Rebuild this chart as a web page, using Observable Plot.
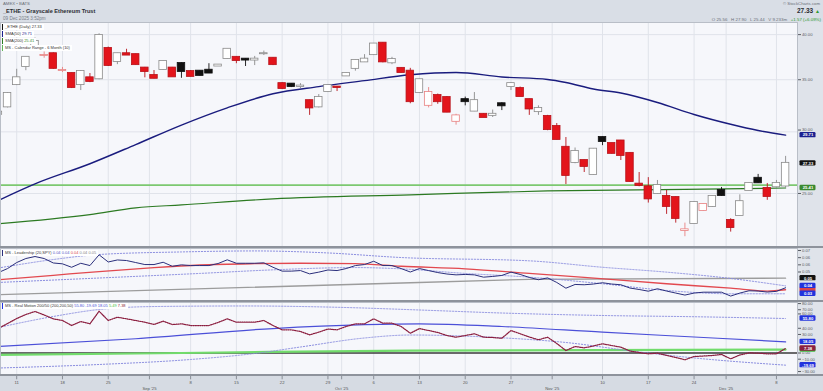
<!DOCTYPE html>
<html>
<head>
<meta charset="utf-8">
<script src="https://cdn.jsdelivr.net/npm/d3@7"></script>
<script src="https://cdn.jsdelivr.net/npm/@observablehq/plot@0.6"></script>
<style>
html,body{margin:0;padding:0;background:#d9dee6;}
#wrap{position:relative;width:823px;height:391px;overflow:hidden;background:#d9dee6;font-family:"Liberation Sans",Arial,sans-serif;}
#wrap svg{display:block;}
.abs{position:absolute;white-space:nowrap;}
.leg{position:absolute;left:2px;height:6px;background:#fff;font-size:4px;line-height:6px;padding:0 2px 0 2px;color:#333;border-left:1.5px solid #000;white-space:nowrap;}
.panel{position:absolute;left:0;}
.sep{position:absolute;left:0;width:823px;height:2px;background:#8e939c;}
</style>
</head>
<body>
<div id="wrap">
  <div id="p0" class="panel" style="top:22px"></div>
  <div class="sep" style="top:246px"></div>
  <div id="p1" class="panel" style="top:248px"></div>
  <div class="sep" style="top:300px"></div>
  <div id="p2" class="panel" style="top:302px"></div>
  <div class="sep" style="top:374px"></div>
  <div id="p3" class="panel" style="top:376px"></div>

  <div class="abs" style="left:3px;top:1px;font-size:4.3px;color:#6a6f78;">AMEX • BATS</div>
  <div class="abs" style="left:3px;top:7.5px;font-size:5.6px;font-weight:bold;color:#2a2d33;">_ETHE - Grayscale Ethereum Trust</div>
  <div class="abs" style="left:3px;top:15.5px;font-size:4.6px;color:#7a7f88;">09 Dec 2025 3:52pm</div>
  <div class="abs" style="right:3px;top:1px;font-size:4.3px;color:#6a6f78;">© StockCharts.com</div>
  <div class="abs" style="right:3px;top:7px;font-size:6.5px;font-weight:bold;color:#2a2d33;">27.33 <span style="color:#2e9b2e;font-size:5px">▲</span></div>
  <div class="abs" style="right:2px;top:16.5px;font-size:4.4px;color:#6a6f78;">O 25.56 &nbsp;&nbsp;H 27.90 &nbsp;&nbsp;L 25.44 &nbsp;&nbsp;V 9.233m &nbsp;&nbsp;<span style="color:#2e9b2e">+1.57 (+6.09%)</span></div>

  <div class="leg" style="top:23.5px;border-left-color:#111;">_ETHE (Daily) 27.33</div>
  <div class="leg" style="top:30.5px;border-left-color:#1b2090;">SMA(50) <span style="color:#1b2090">29.71</span></div>
  <div class="leg" style="top:37.5px;border-left-color:#2c7a22;">SMA(200) <span style="color:#3b8a30">25.41</span></div>
  <div class="leg" style="top:44.5px;border-left-color:#5fb556;">MS - Calendar Range - 6 Month (10)</div>
  <div class="leg" style="top:249.5px;border-left-color:#2b2f7c;">MS - Leadership (20,SPY) <span style="color:#5558c8">0.04 0.04</span> <span style="color:#d9434a">0.04</span> <span style="color:#888">0.04 0.05</span></div>
  <div class="leg" style="top:303px;border-left-color:#2233dd;">MS - Real Motion 200/50 (200,200,50) <span style="color:#4b4fd8">55.80 -19.69 18.05</span> <span style="color:#3fbf3f">5.49</span> <span style="color:#8b2040">7.38</span></div>
</div>
<script>
// ---- daily OHLC (trading days Aug 7 .. Dec 9, 2025; index 0..86) ----
const open = [31.6,32.3,34.5,36.4,38.3,37.6,37.8,35.97,35.65,34.5,
  35.2,35.1,38.4,36.95,37.8,37.7,36.23,35.44,36.08,36.23,
  36.72,35.86,35.9,36.0,36.45,37.27,37.4,37.2,37.1,37.8,
  37.3,34.6,34.55,34.3,32.9,32.3,33.8,34.25,35.4,36.2,
  36.9,37.7,39.0,36.8,36.2,35.9,33.7,32.45,33.4,33.2,
  30.95,33.0,31.9,31.6,31.5,32.6,34.3,34.1,33.0,31.85,
  31.4,30.48,28.66,27.4,27.56,26.45,29.5,28.98,29.2,28.15,
  25.7,25.5,25.0,24.78,24.7,22.4,22.88,23.77,24.06,25.22,
  23.08,23.43,25.22,26.15,25.37,25.5,25.56];
const high = [31.9,33.7,36.1,37.4,39.6,38.0,37.9,36.3,35.7,35.97,
  35.65,40.1,38.55,37.85,38.3,37.75,36.3,35.97,37.0,36.3,
  36.8,35.97,35.95,36.7,36.6,38.3,37.45,37.25,37.5,38.1,
  37.35,34.7,34.6,34.6,32.95,33.5,34.45,34.3,35.7,37.1,
  37.7,38.95,39.05,37.4,36.25,36.2,35.05,34.2,33.55,33.3,
  31.6,33.25,33.7,31.65,32.0,32.7,34.7,34.25,33.05,32.4,
  31.5,30.75,29.5,28.6,27.6,28.55,29.55,29.0,29.25,28.2,
  26.6,26.2,25.98,25.22,24.75,22.9,24.4,24.25,24.8,25.45,
  23.2,24.9,25.8,26.45,25.75,25.98,27.9];
const low = [31.4,32.2,34.4,35.95,38.2,37.3,36.1,35.75,34.1,33.9,
  34.7,35.0,36.4,36.6,37.6,36.55,35.2,35.1,36.0,35.3,
  35.15,35.3,35.4,35.65,36.4,37.2,36.7,36.4,36.5,37.6,
  36.5,34.0,34.2,34.1,31.5,32.2,33.7,33.8,35.35,35.9,
  36.85,37.6,36.8,36.6,35.7,32.6,33.6,32.2,32.55,31.75,
  30.6,32.4,31.85,31.3,31.3,31.95,33.9,33.3,31.5,31.5,
  30.1,29.3,25.67,27.3,26.6,26.4,28.8,28.1,27.56,25.85,
  25.5,24.3,24.95,23.5,22.9,22.0,22.85,23.7,24.0,24.8,
  22.3,23.4,25.2,25.75,24.5,25.4,25.44];
const close = [31.8,33.6,35.2,37.4,39.2,37.6,36.2,35.97,34.2,35.86,
  34.82,39.9,36.51,37.8,37.65,36.6,35.86,35.15,36.95,35.3,
  35.86,35.35,35.45,35.7,36.55,38.3,37.05,37.1,37.2,37.8,
  36.6,34.1,34.3,34.35,32.2,33.2,34.4,34.2,35.65,37.05,
  37.2,38.9,36.9,37.15,35.75,32.8,35.0,33.7,32.8,31.8,
  31.45,32.8,32.9,31.3,31.6,32.4,34.6,33.3,32.1,32.15,
  30.2,29.33,26.37,28.3,27.08,28.5,29.15,28.15,27.98,25.9,
  25.6,24.6,25.6,24.06,23.22,22.45,24.34,24.2,24.78,24.85,
  22.6,24.4,25.75,25.8,24.78,25.75,27.33];

// ---- price overlays (sampled at trading-day index) ----
const sma50Idx = [0,4,10,15,20,25,30,35,40,45,50,55,60,62,65,68,72,76,80,83,86];
const sma50    = [24.49,25.72,27.30,28.89,30.61,32.21,33.58,34.30,34.91,35.52,35.76,35.29,35.03,34.72,34.06,33.65,32.72,31.58,30.68,30.12,29.71];
const sma200Idx = [0,10,15,20,30,45,60,75,86];
const sma200    = [22.86,23.49,23.96,24.17,24.60,24.90,25.19,25.30,25.41];
const calRange = 25.62;

// ---- MS Leadership (20,SPY) ----
const leadership = [0.0546,0.0574,0.0616,0.0644,0.0658,0.0644,0.0613,0.0607,0.0583,0.0611,
  0.0595,0.0670,0.0620,0.0634,0.0630,0.0616,0.0602,0.0602,0.0618,0.0590,
  0.0600,0.0595,0.0595,0.0595,0.0609,0.0635,0.0611,0.0611,0.0611,0.0614,
  0.0583,0.0556,0.0556,0.0560,0.0537,0.0549,0.0564,0.0560,0.0574,0.0595,
  0.0602,0.0625,0.0595,0.0595,0.0574,0.0550,0.0574,0.0560,0.0546,0.0536,
  0.0530,0.0533,0.0530,0.0514,0.0519,0.0526,0.0549,0.0533,0.0512,0.0496,
  0.0509,0.0477,0.0437,0.0463,0.0461,0.0466,0.0475,0.0466,0.0461,0.0438,
  0.0428,0.0416,0.0433,0.0417,0.0403,0.0389,0.0403,0.0409,0.0409,0.0409,
  0.0382,0.0403,0.0419,0.0417,0.0410,0.0415,0.0440];
const leadAvgIdx = [0,6,11,17,22,28,33,39,44,51,58,64,73,80,84,86];
const leadAvg    = [0.0496,0.0527,0.0553,0.0581,0.0599,0.0608,0.0611,0.0608,0.0590,0.0572,0.0540,0.0512,0.0468,0.0437,0.0417,0.0426];
const leadUpIdx = [0,6,11,20,28,36,44,58,66,73,80,86];
const leadUp    = [0.0578,0.0637,0.0672,0.0690,0.0697,0.0683,0.0651,0.0628,0.0583,0.0549,0.0505,0.0453];
const leadLoIdx = [0,11,22,30,39,44,51,58,66,73,80,86];
const leadLo    = [0.0477,0.0508,0.0540,0.0565,0.0581,0.0572,0.0540,0.0514,0.0468,0.0421,0.0398,0.0398];
const leadRefIdx = [0,45,58,86];
const leadRef    = [0.0392,0.0475,0.0499,0.0507];

// ---- MS Real Motion 200/50 ----
const realMotion = [39.6,47.7,55.8,62.3,67.2,61.5,55.3,52.6,44.5,51.0,
  47.2,67.6,52.6,57.9,55.3,52.6,49.8,46.1,51.5,46.1,
  47.2,44.5,44.5,44.5,49.4,55.3,49.8,49.8,49.8,52.6,
  44.5,37.5,37.5,34.8,29.4,33.7,38.8,37.5,42.9,47.2,
  47.2,55.3,48.2,48.2,42.9,32.0,39.6,36.4,33.2,28.3,
  25.6,28.3,31.1,25.6,25.1,23.9,36.4,31.1,25.9,21.4,
  25.6,15.4,4.0,10.5,8.4,11.3,14.9,12.1,9.4,3.2,
  0.8,-1.3,-0.3,-4.0,-7.3,-11.0,-5.7,-4.9,-4.0,-2.4,
  -9.4,-3.2,0.3,-0.3,-1.3,-1.3,7.38];
const rmAvgIdx = [0,15,30,40,46,55,66,76,86];
const rmAvg    = [10.5,23.1,39.6,45.8,47.2,42.9,33.7,25.9,18.05];
const rmUpIdx = [0,6,11,17,27,38,46,55,66,76,86];
const rmUp    = [41.3,59.1,70.4,75.2,76.1,73.6,69.6,64.7,60.7,58.7,55.80];
const rmLoIdx = [0,11,21,28,33,40,45,55,62,70,77,86];
const rmLo    = [-24.3,-18.6,-10.5,-0.8,9.7,24.3,29.1,24.6,17.0,1.6,-9.4,-19.69];
const rmGreenIdx = [0,20,45,86];
const rmGreen    = [-3.0,0.0,4.0,5.49];

// ---- axes (tick labels not hidden behind value tags; "near" ones sit just above a tag) ----
const priceTicks = [25,35,40];
const priceTicksNear = [30];
const leadTicks = [0.055,0.06,0.065,0.07];
const rmTicks = [-30,-10,0,30,40,70,80];
const rmTicksNear = [60];
const weekIdx = [2,7,12,21,26,31,36,41,46,51,56,66,71,76,85];
const weekLabels = ["11","18","25","8","15","22","29","6","13","20","27","10","17","24","8"];
const monthIdx = [16.5,37.5,60.5,79.5];
const monthLabels = ["Sep '25","Oct '25","Nov '25","Dec '25"];

// ---- build ----
const W = 823, MR = 26, XD = [0.23, 87.3];
const FONT = '"Liberation Sans", Arial, sans-serif';
const AX_FS = 4.2;
const gridIdx = [...weekIdx, ...monthIdx];
const pts = (ix, vs) => ix.map((i, k) => ({i, v: vs[k]}));
const series = vs => vs.map((v, i) => ({i, v}));
const last = a => a[a.length - 1];

const candles = close.map((c, i) => {
  const o = open[i], pc = i > 0 ? close[i - 1] : o;
  const up = c >= o, gain = c >= pc;
  return {i, o, h: high[i], l: low[i], c,
    sc: up ? (gain ? "#8a8a8a" : "#e88080") : (gain ? "#111111" : "#b8121a"),
    fc: up ? "#ffffff" : (gain ? "#111111" : "#e3141b")};
});

function tagBox(v, color) {
  return Plot.rect([v], {x1: () => XD[1], x2: () => XD[1], y1: d => d, y2: d => d,
    insetLeft: 2.5, insetRight: -18.5, insetTop: -2.7, insetBottom: -2.7, fill: color, rx: 1.2});
}
function tag(v, color, txt) {
  return [
    tagBox(v, color),
    Plot.text([v], {x: () => XD[1], y: d => d, dx: 10.5, text: () => txt, fill: "#fff",
      fontSize: 4.2, fontWeight: "bold"})
  ];
}
const axisOpts = {anchor: "right", tickSize: 3, tickPadding: 1.5, fontSize: AX_FS, label: null};

function panel(h, y, marks, bg) {
  return Plot.plot({
    width: W, height: h, marginLeft: 0, marginRight: MR, marginTop: 0, marginBottom: 0,
    x: {domain: XD, axis: null},
    y,
    color: {type: "identity"},
    style: {background: bg || "#dfe3ea", color: "#5a5e66", fontFamily: FONT, fontSize: "4.2px", overflow: "visible"},
    marks
  });
}
const bgFrame = Plot.frame({fill: "#f6f7fb", stroke: null});
const vgrid = Plot.gridX(gridIdx, {stroke: "#e0e3ea", strokeOpacity: 1});
const dotted = {stroke: "#8c8fe0", strokeWidth: 1, strokeDasharray: "1.3,1.7", curve: "monotone-x"};

// price panel
const p0 = panel(224, {type: "log", domain: [21.37, 41.46]}, [
  bgFrame,
  Plot.gridY([...priceTicks, ...priceTicksNear], {stroke: "#e0e3ea", strokeOpacity: 1}),
  vgrid,
  Plot.axisY(priceTicks, {...axisOpts, tickFormat: d3.format(".2f")}),
  Plot.axisY(priceTicksNear, {...axisOpts, tickFormat: d3.format(".2f"), dy: -1.8}),
  Plot.ruleY([calRange], {stroke: "#7cc870", strokeWidth: 1.8}),
  Plot.line(pts(sma200Idx, sma200), {x: "i", y: "v", stroke: "#2c7a22", strokeWidth: 1.2, curve: "monotone-x"}),
  Plot.line(pts(sma50Idx, sma50), {x: "i", y: "v", stroke: "#1a1c7e", strokeWidth: 1.4, curve: "monotone-x"}),
  Plot.ruleX(candles, {x: "i", y1: "l", y2: "h", stroke: "sc", strokeWidth: 0.9}),
  Plot.rect(candles, {x1: d => d.i - 0.41, x2: d => d.i + 0.41,
    y1: d => Math.min(d.o, d.c), y2: d => Math.max(d.o, d.c),
    fill: "fc", stroke: "sc", strokeWidth: 0.8, insetTop: -0.5, insetBottom: -0.5}),
  Plot.frame({stroke: "#b9bec7"}),
  ...tag(last(sma50), "#1b2090", last(sma50).toFixed(2)),
  ...tag(last(close), "#111", last(close).toFixed(2)),
  ...tag(last(sma200), "#3b8a30", last(sma200).toFixed(2))
]);
document.getElementById("p0").append(p0);

// leadership panel
const trunc2 = d => (Math.floor(d * 100 + 1e-6) / 100).toFixed(2);
const p1 = panel(52, {domain: [0.03511, 0.07140]}, [
  bgFrame, vgrid,
  Plot.axisY(leadTicks, {...axisOpts, tickFormat: trunc2}),
  Plot.line(pts(leadRefIdx, leadRef), {x: "i", y: "v", stroke: "#9c9c9c", strokeWidth: 1.3}),
  Plot.line(pts(leadUpIdx, leadUp), {x: "i", y: "v", ...dotted}),
  Plot.line(pts(leadLoIdx, leadLo), {x: "i", y: "v", ...dotted}),
  Plot.line(pts(leadAvgIdx, leadAvg), {x: "i", y: "v", stroke: "#e2494f", strokeWidth: 1.3, curve: "monotone-x"}),
  Plot.line(series(leadership), {x: "i", y: "v", stroke: "#2b2f7c", strokeWidth: 1}),
  Plot.frame({stroke: "#b9bec7"}),
  ...tag(last(leadRef), "#111", trunc2(last(leadRef))),
  tagBox(last(leadAvg), "#d9434a"),
  ...tag(last(leadUp), "#2233dd", trunc2(last(leadUp))),
  ...tag(last(leadLo), "#2233dd", trunc2(last(leadLo)))
]);
document.getElementById("p1").append(p1);

// real motion panel
const p2 = panel(72, {domain: [-34.79, 81.72]}, [
  bgFrame, vgrid,
  Plot.axisY(rmTicks, {...axisOpts, tickFormat: d3.format(".2f")}),
  Plot.axisY(rmTicksNear, {...axisOpts, tickFormat: d3.format(".2f"), dy: -2}),
  Plot.ruleY([0], {stroke: "#3a3a3a", strokeWidth: 1.3}),
  Plot.line(pts(rmGreenIdx, rmGreen), {x: "i", y: "v", stroke: "#72dc6c", strokeWidth: 2.2, curve: "monotone-x"}),
  Plot.line(pts(rmUpIdx, rmUp), {x: "i", y: "v", ...dotted}),
  Plot.line(pts(rmLoIdx, rmLo), {x: "i", y: "v", ...dotted}),
  Plot.line(pts(rmAvgIdx, rmAvg), {x: "i", y: "v", stroke: "#4b4fd8", strokeWidth: 1.2, curve: "monotone-x"}),
  Plot.line(series(realMotion), {x: "i", y: "v", stroke: "#8b1e3f", strokeWidth: 1.25, strokeDasharray: "1.1,1.1"}),
  Plot.frame({stroke: "#b9bec7"}),
  ...tag(last(rmUp), "#2233dd", last(rmUp).toFixed(2)),
  ...tag(last(rmAvg), "#2233dd", last(rmAvg).toFixed(2)),
  tagBox(last(rmGreen), "#3fbf3f"),
  ...tag(last(realMotion), "#8b2040", last(realMotion).toFixed(2)),
  ...tag(last(rmLo), "#2233dd", last(rmLo).toFixed(2))
]);
document.getElementById("p2").append(p2);

// date axis
const p3 = panel(15, {domain: [0, 1], axis: null}, [
  Plot.ruleX(gridIdx, {x: d => d, y1: () => 1, y2: () => 0.78, stroke: "#8a8f98"}),
  Plot.text(weekIdx, {x: d => d, text: (d, i) => weekLabels[i], frameAnchor: "top", dy: 4.5, fontSize: AX_FS, fill: "#555"}),
  Plot.text(monthIdx, {x: d => d, text: (d, i) => monthLabels[i], frameAnchor: "top", dy: 10.5, fontSize: AX_FS, fill: "#555"})
], "#d6dbe3");
document.getElementById("p3").append(p3);
</script>
</body>
</html>
